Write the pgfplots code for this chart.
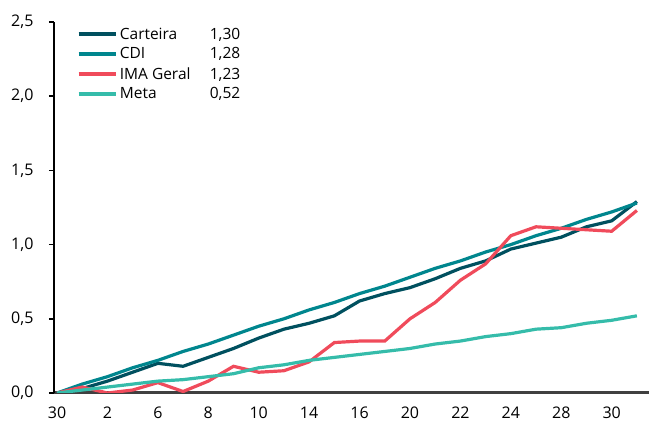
\documentclass[border=0pt]{standalone}
\usepackage{pgfplots}
\pgfplotsset{compat=1.18}
\usepackage{pgfplotstable}
\usepackage{fontspec}
\setmainfont{Open Sans}
\definecolor{carteira}{HTML}{00505F}
\definecolor{cdi}{HTML}{00868E}
\definecolor{ima}{HTML}{F04B5B}
\definecolor{meta}{HTML}{35BCAA}
\definecolor{xline}{HTML}{404040}

% idx: 30,1,2,3,6,7,8,9,10,13,14,15,16,17,20,21,22,23,24,27,28,29,30,31
\pgfplotstableread{
x  carteira cdi  ima  meta
0  0.00  0.00  0.00  0.00
1  0.03  0.06  0.04  0.02
2  0.08  0.11  0.00  0.04
3  0.14  0.17  0.02  0.06
4  0.20  0.22  0.07  0.08
5  0.18  0.28  0.01  0.09
6  0.24  0.33  0.08  0.11
7  0.30  0.39  0.18  0.13
8  0.37  0.45  0.14  0.17
9  0.43  0.50  0.15  0.19
10 0.47  0.56  0.21  0.22
11 0.52  0.61  0.34  0.24
12 0.62  0.67  0.35  0.26
13 0.67  0.72  0.35  0.28
14 0.71  0.78  0.50  0.30
15 0.77  0.84  0.61  0.33
16 0.84  0.89  0.76  0.35
17 0.89  0.95  0.87  0.38
18 0.97  1.00  1.06  0.40
19 1.01  1.06  1.12  0.43
20 1.05  1.11  1.11  0.44
21 1.12  1.17  1.10  0.47
22 1.16  1.22  1.09  0.49
23 1.29  1.28  1.23  0.52
}\data

\begin{document}
\begin{tikzpicture}
\begin{axis}[
    scale only axis,
    width=595pt, height=371pt,
    xmin=-0.12, xmax=23.48,
    ymin=0, ymax=2.5,
    axis x line=bottom, axis y line=left,
    x axis line style={-, line width=3pt, color=xline},
    y axis line style={-, line width=2pt, color=black},
    xtick={0,2,...,22},
    xticklabels={30,2,6,8,10,14,16,20,22,24,28,30},
    xtick style={draw=none},
    ytick={0,0.5,...,2.5},
    ytick style={line width=1.5pt, color=black},
    tick align=outside,
    major tick length=5pt,
    xticklabel style={yshift=-5pt},
    yticklabel style={xshift=-12pt},
    font=\fontsize{16}{19}\selectfont,
    /pgf/number format/.cd, use comma, fixed, fixed zerofill, precision=1, assume math mode=true,
    /pgfplots/.cd,
    legend style={at={(axis cs:0.64,2.49)}, anchor=north west, draw=none, fill=none,
        font=\fontsize{15.5}{18}\selectfont, row sep=3pt,
        nodes={inner sep=2pt}},
    legend cell align=left,
    legend image code/.code={\draw[#1, line width=4.5pt] (0pt,0pt) -- (37pt,0pt);},
    every axis plot/.append style={line width=3.2pt, mark=none},
]
\addplot[color=carteira] table[x=x, y=carteira] {\data};
\addplot[color=cdi] table[x=x, y=cdi] {\data};
\addplot[color=ima] table[x=x, y=ima] {\data};
\addplot[color=meta] table[x=x, y=meta] {\data};
\legend{{\makebox[90pt][l]{Carteira}1,30}, {\makebox[90pt][l]{CDI}1,28}, {\makebox[90pt][l]{IMA Geral}1,23}, {\makebox[90pt][l]{Meta}0,52}}
\end{axis}
\pgfresetboundingbox
\useasboundingbox (-54pt,-33pt) rectangle (595pt,393pt);
\end{tikzpicture}
\end{document}
